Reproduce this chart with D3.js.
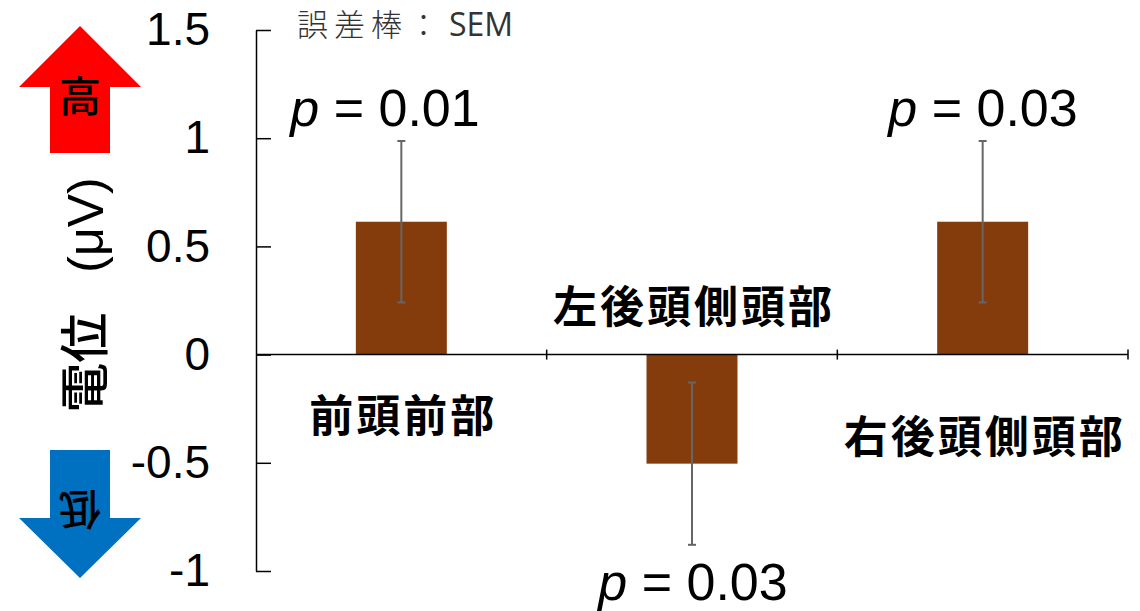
<!DOCTYPE html>
<html lang="ja">
<head>
  <meta charset="utf-8">
  <title>電位</title>
  <script src="https://d3js.org/d3.v7.min.js"></script>
  <style>
    html, body { margin: 0; padding: 0; background: #fff; }
    svg { display: block; }
    .num { font-family: "Liberation Sans", Arial, sans-serif; fill: #000; }
    .jp { font-family: "Noto Sans CJK JP", sans-serif; fill: #000; }
  </style>
</head>
<body>
  <svg width="1140" height="611"></svg>
  <script>
    // データ
    const categories = ["前頭前部", "左後頭側頭部", "右後頭側頭部"];
    const means = [0.614, -0.504, 0.614];
    const sems = [0.373, 0.375, 0.373];
    const pLabels = ["0.01", "0.03", "0.03"];
    const yTicks = [-1, -0.5, 0, 0.5, 1, 1.5];

    const svg = d3.select("svg");

    const y = d3.scaleLinear().domain([-1, 1.5]).range([571, 30]);
    const x = d3.scaleBand().domain(categories).range([256, 1128]);
    const barW = x.step() * 0.313;
    const cx = d => x(d) + x.bandwidth() / 2;

    // 棒
    svg.append("g")
      .selectAll("rect")
      .data(categories)
      .join("rect")
      .attr("x", d => cx(d) - barW / 2)
      .attr("width", barW)
      .attr("y", (d, i) => y(Math.max(0, means[i])))
      .attr("height", (d, i) => Math.abs(y(means[i]) - y(0)))
      .attr("fill", "#843c0c");

    // 誤差棒
    const eb = svg.append("g").attr("stroke", "#666").attr("stroke-width", 2);
    categories.forEach((c, i) => {
      const hi = y(means[i] + sems[i]), lo = y(means[i] - sems[i]);
      eb.append("line").attr("x1", cx(c)).attr("x2", cx(c)).attr("y1", hi).attr("y2", lo);
      eb.append("line").attr("x1", cx(c) - 4).attr("x2", cx(c) + 4).attr("y1", hi).attr("y2", hi);
      eb.append("line").attr("x1", cx(c) - 4).attr("x2", cx(c) + 4).attr("y1", lo).attr("y2", lo);
    });

    // y軸
    const yAxis = d3.axisLeft(y)
      .tickValues(yTicks)
      .tickFormat(d => String(d))
      .tickSizeInner(-15)
      .tickSizeOuter(0)
      .tickPadding(46);
    const gy = svg.append("g").attr("transform", "translate(256,0)").call(yAxis);
    gy.select(".domain").attr("stroke", "#000").attr("stroke-width", 1.5);
    gy.selectAll(".tick line").attr("stroke", "#000").attr("stroke-width", 1.5);
    gy.selectAll(".tick text")
      .attr("class", "num")
      .attr("font-size", 46)
      .attr("fill", "#000")
      .attr("font-family", "Liberation Sans, Arial, sans-serif");

    // x軸 (0の線)
    svg.append("line")
      .attr("x1", 256).attr("x2", 1128)
      .attr("y1", y(0)).attr("y2", y(0))
      .attr("stroke", "#000").attr("stroke-width", 1.5);
    svg.append("g")
      .selectAll("line")
      .data(categories)
      .join("line")
      .attr("x1", d => x(d) + x.step()).attr("x2", d => x(d) + x.step())
      .attr("y1", y(0) - 5).attr("y2", y(0) + 5)
      .attr("stroke", "#000").attr("stroke-width", 1.5);

    // カテゴリ名
    const catY = [432, 323, 453];
    svg.append("g")
      .selectAll("text")
      .data(categories)
      .join("text")
      .attr("class", "jp")
      .attr("x", d => cx(d) + 2)
      .attr("y", (d, i) => catY[i])
      .attr("text-anchor", "middle")
      .attr("font-size", 44)
      .attr("font-weight", "bold")
      .attr("letter-spacing", 3)
      .text(d => d);

    // p値
    const pY = [126, 600, 126];
    const pX = [385, 693, 983];
    categories.forEach((c, i) => {
      const t = svg.append("text")
        .attr("class", "num")
        .attr("x", pX[i])
        .attr("y", pY[i])
        .attr("text-anchor", "middle")
        .attr("font-size", 52);
      t.append("tspan").attr("font-style", "italic").text("p");
      t.append("tspan").text(" = " + pLabels[i]);
    });

    // 誤差棒注記
    const note = svg.append("text")
      .attr("x", 297).attr("y", 36)
      .style("fill", "#333");
    note.append("tspan")
      .attr("font-family", "Noto Sans CJK JP, sans-serif")
      .attr("font-size", 31).attr("font-weight", 300)
      .attr("letter-spacing", 6)
      .text("誤差棒：");
    note.append("tspan")
      .attr("font-family", "Open Sans, sans-serif")
      .attr("font-size", 32)
      .attr("dx", 4)
      .text("SEM");

    // y軸ラベル
    const yl = svg.append("text")
      .attr("transform", "translate(103,295) rotate(-90)")
      .attr("text-anchor", "middle")
      .attr("font-size", 50);
    yl.append("tspan").attr("class", "jp").attr("font-weight", 500).text("電位");
    yl.append("tspan").attr("class", "num").attr("dx", 40).text("(μV)");

    // 矢印
    const arrow = (x0, base, tip, end, color) => {
      const pts = [[x0 - 30, end], [x0 - 30, base], [x0 - 61, base], [x0, tip],
                   [x0 + 61, base], [x0 + 30, base], [x0 + 30, end]];
      svg.append("path").attr("d", d3.line()(pts) + "Z").attr("fill", color);
    };
    arrow(80, 87, 26, 153, "#ff0000");
    arrow(80, 518, 578, 450, "#0070c0");

    svg.append("text").attr("class", "jp")
      .attr("x", 80).attr("y", 112).attr("text-anchor", "middle")
      .attr("font-size", 42).attr("font-weight", 500).text("高");
    svg.append("text").attr("class", "jp")
      .attr("transform", "translate(80,494) rotate(180)")
      .attr("text-anchor", "middle")
      .attr("font-size", 42).attr("font-weight", 500).text("低");
  </script>
</body>
</html>
